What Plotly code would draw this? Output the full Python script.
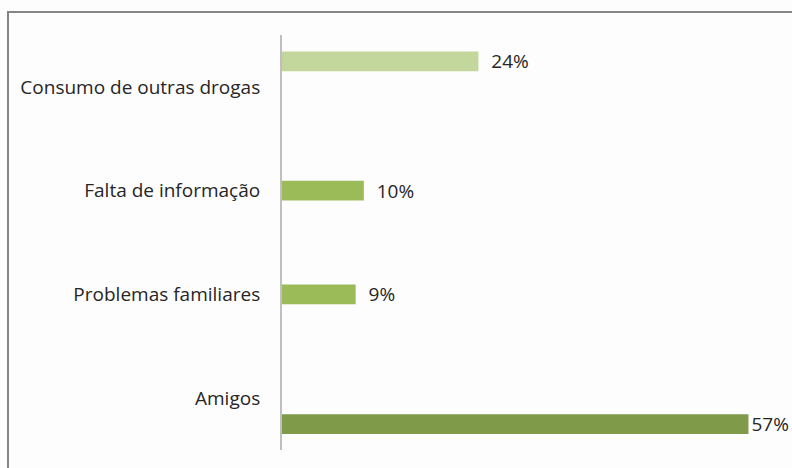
import plotly.graph_objects as go

# Categories, bottom to top
categories = ["Amigos", "Problemas familiares", "Falta de informação", "Consumo de outras drogas"]

# Percentages per series
drogas_cat = ["Consumo de outras drogas"]
drogas_val = [24]

meio_cat = ["Falta de informação", "Problemas familiares"]
meio_val = [10, 9]

amigos_cat = ["Amigos"]
amigos_val = [57]

label_font = dict(family="Open Sans, Lato, sans-serif", size=19, color="#262626")

fig = go.Figure()

fig.add_trace(go.Bar(
    y=drogas_cat, x=drogas_val, orientation="h",
    marker=dict(color="#c3d69b", line=dict(width=0)),
    width=0.19, offset=0.15,
    text=[f"  {v}%" for v in drogas_val], textposition="outside",
    textfont=label_font, cliponaxis=False, constraintext="none",
))

fig.add_trace(go.Bar(
    y=meio_cat, x=meio_val, orientation="h",
    marker=dict(color="#9bbb59", line=dict(width=0)),
    width=0.19, offset=-0.095,
    text=[f"  {v}%" for v in meio_val], textposition="outside",
    textfont=label_font, cliponaxis=False, constraintext="none",
))

fig.add_trace(go.Bar(
    y=amigos_cat, x=amigos_val, orientation="h",
    marker=dict(color="#7f9a48", line=dict(width=0)),
    width=0.19, offset=-0.345,
    text=[f"{v}%" for v in amigos_val], textposition="outside",
    textfont=label_font, cliponaxis=False, constraintext="none",
))

fig.update_layout(
    width=792, height=468,
    margin=dict(l=282, r=19, t=35, b=18),
    paper_bgcolor="#fdfdfd", plot_bgcolor="#fdfdfd",
    barmode="overlay", showlegend=False,
    uniformtext=dict(mode=False),
    xaxis=dict(range=[0, 60], visible=False, fixedrange=True),
    yaxis=dict(
        type="category", categoryorder="array", categoryarray=categories,
        range=[-0.5, 3.5],
        showline=True, linecolor="#bfbfbf", linewidth=2,
        showgrid=False, zeroline=False,
        ticks="outside", ticklen=0, ticklabelstandoff=16,
        tickfont=label_font,
    ),
    shapes=[dict(
        type="rect", xref="paper", yref="paper",
        x0=(8 - 282) / 491, x1=1.2, y0=-0.2, y1=(450 - 12) / 415,
        line=dict(color="#868686", width=2), fillcolor="rgba(0,0,0,0)",
        layer="below",
    )],
)

fig.write_html("out.html")
